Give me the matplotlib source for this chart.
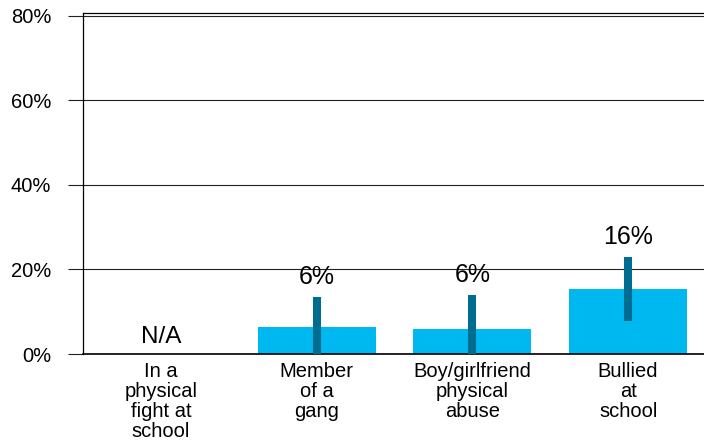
import matplotlib
matplotlib.use("Agg")
import matplotlib.pyplot as plt
import numpy as np

plt.rcParams["font.family"] = ["Liberation Sans", "DejaVu Sans"]

categories = ["In a\nphysical\nfight at\nschool", "Member\nof a\ngang",
              "Boy/girlfriend\nphysical\nabuse", "Bullied\nat\nschool"]
values = [np.nan, 6.5, 5.8, 15.5]
lower = [np.nan, 0.0, 0.0, 7.9]
upper = [np.nan, 13.5, 14.0, 23.0]
labels = ["N/A", "6%", "6%", "16%"]
yticks = [0, 20, 40, 60, 80]

bar_color = "#00B8F0"
err_color = "#006C90"

fig = plt.figure(figsize=(7.04, 4.42), dpi=100)
ax = fig.add_axes([83 / 704, 1 - 354 / 442, 623 / 704, 341 / 442])

x = np.arange(len(categories))
ax.bar(x, np.nan_to_num(values), width=0.758, color=bar_color, zorder=2)
for xi, lo, hi in zip(x, lower, upper):
    if not np.isnan(hi):
        ax.vlines(xi, lo, hi, color=err_color, linewidth=5.8, zorder=3)

for xi, hi, lab in zip(x, upper, labels):
    if np.isnan(hi):
        ax.text(xi, 4.1, lab, ha="center", va="center", fontsize=17.5)
    else:
        ax.text(xi, hi + 4.8, lab, ha="center", va="center", fontsize=18)

ax.set_xlim(-0.5, 3.5)
ax.set_ylim(0, 80.7)
ax.set_yticks(yticks)
ax.set_yticklabels([f"{t}%" for t in yticks], fontsize=14.5)
ax.set_xticks(x)
ax.set_xticklabels(categories, fontsize=14.5, linespacing=1.06, va="top")
ax.tick_params(axis="x", length=0, pad=6)
ax.tick_params(axis="y", length=11, width=0.8, color="#222222", pad=12)
ax.yaxis.grid(True, color="#222222", linewidth=0.8, zorder=0)
ax.set_axisbelow(True)

for side in ["left", "top", "bottom"]:
    ax.spines[side].set_color("black")
    ax.spines[side].set_linewidth(0.9)
ax.spines["right"].set_visible(False)
ax.spines["bottom"].set_linewidth(1.2)

fig.savefig("out.png", dpi=100)
